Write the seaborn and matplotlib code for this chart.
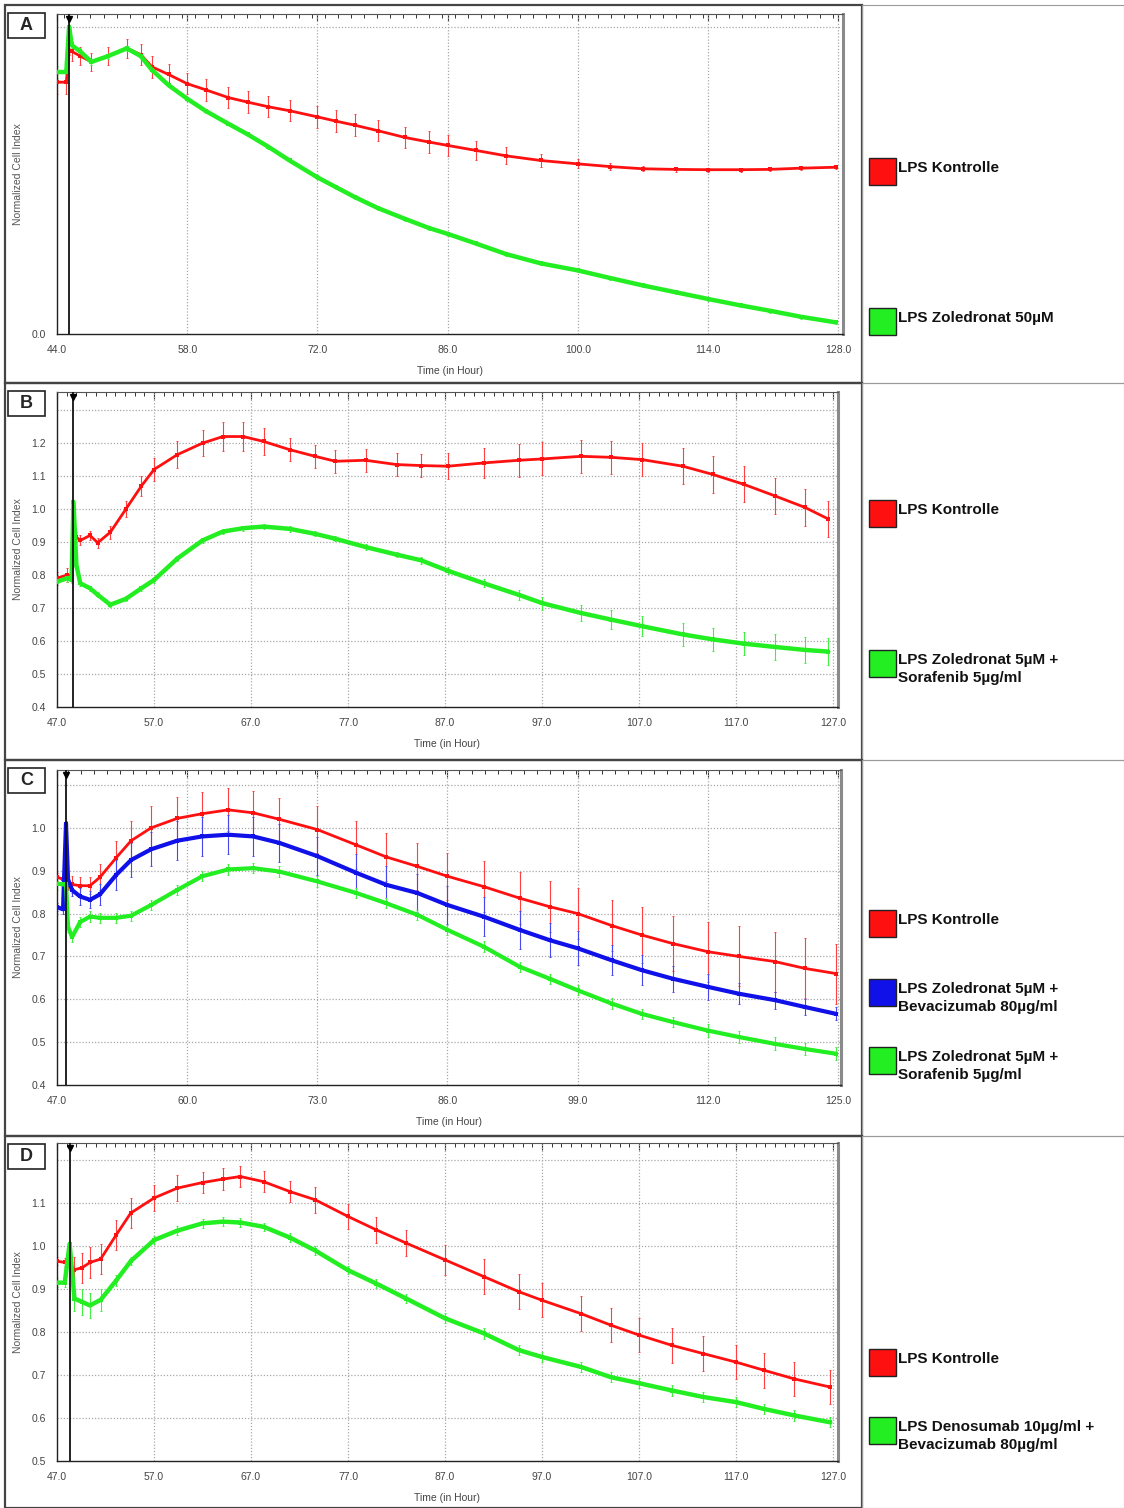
import matplotlib
matplotlib.use("Agg")
import matplotlib.pyplot as plt
import matplotlib.patches as mpatches
from matplotlib.ticker import MultipleLocator, FixedLocator, FuncFormatter
import seaborn as sns

# ---- panel A ----
A_time = [44.0, 45.0, 45.3, 45.6, 46.5, 47.7, 49.5, 51.5, 53.0, 54.2, 56, 58, 60, 62.4, 64.5, 66.7, 69, 72,
          74, 76, 78.5, 81.4, 84, 86, 89, 92.3, 96, 100, 103.5, 107, 110.5, 114, 117.5, 120.6, 124, 127.7]
A_red = [0.82, 0.82, 0.92, 0.92, 0.905, 0.886, 0.905, 0.93, 0.91, 0.87, 0.845, 0.815, 0.795, 0.77, 0.755,
         0.74, 0.727, 0.707, 0.693, 0.68, 0.662, 0.64, 0.625, 0.614, 0.598, 0.58, 0.565, 0.554, 0.545, 0.538,
         0.536, 0.535, 0.535, 0.536, 0.54, 0.543]
A_red_err = [0.04, 0.04, 0.01, 0.03, 0.03, 0.03, 0.03, 0.03, 0.035, 0.035, 0.035, 0.035, 0.035, 0.035, 0.035,
             0.035, 0.035, 0.035, 0.035, 0.035, 0.035, 0.035, 0.035, 0.033, 0.03, 0.028, 0.022, 0.015, 0.012,
             0.008, 0.007, 0.006, 0.006, 0.006, 0.006, 0.006]
A_green = [0.853, 0.853, 1.0, 0.94, 0.92, 0.886, 0.905, 0.93, 0.905, 0.86, 0.81, 0.766, 0.726, 0.685, 0.65,
           0.61, 0.565, 0.51, 0.478, 0.446, 0.41, 0.375, 0.345, 0.326, 0.295, 0.26, 0.23, 0.207, 0.182, 0.158,
           0.136, 0.114, 0.093, 0.076, 0.056, 0.038]
A_green_err = [0.02, 0.02, 0.005, 0.01, 0.01, 0.01, 0.008, 0.008, 0.006, 0.006, 0.006, 0.006, 0.006, 0.006,
               0.006, 0.006, 0.006, 0.006, 0.006, 0.006, 0.006, 0.006, 0.006, 0.006, 0.006, 0.006, 0.006,
               0.006, 0.006, 0.006, 0.006, 0.006, 0.006, 0.006, 0.006, 0.006]
A_norm = 45.3

# ---- panel B ----
B_time = [47.0, 48.0, 48.5, 48.7, 49.0, 49.4, 50.4, 51.2, 52.5, 54.1, 55.7, 57, 59.4, 62, 64.1, 66.2, 68.3,
          71, 73.6, 75.7, 78.8, 82, 84.5, 87.3, 91, 94.6, 97, 101, 104.1, 107.3, 111.5, 114.6, 117.8, 121,
          124.1, 126.5]
B_red = [0.79, 0.80, 0.80, 0.95, 0.915, 0.905, 0.92, 0.898, 0.93, 1.0, 1.07, 1.12, 1.165, 1.2, 1.22, 1.22,
         1.205, 1.18, 1.16, 1.145, 1.148, 1.135, 1.132, 1.13, 1.14, 1.148, 1.152, 1.16, 1.157, 1.15, 1.13,
         1.105, 1.075, 1.04, 1.005, 0.97]
B_red_err = [0.02, 0.02, 0.02, 0.01, 0.015, 0.015, 0.015, 0.015, 0.02, 0.025, 0.03, 0.035, 0.04, 0.04,
             0.045, 0.045, 0.04, 0.035, 0.035, 0.035, 0.035, 0.035, 0.035, 0.04, 0.045, 0.05, 0.05, 0.05,
             0.05, 0.05, 0.055, 0.055, 0.055, 0.055, 0.055, 0.055]
B_green = [0.78, 0.79, 0.785, 1.02, 0.83, 0.775, 0.76, 0.74, 0.71, 0.728, 0.76, 0.785, 0.85, 0.905, 0.932,
           0.942, 0.947, 0.94, 0.925, 0.91, 0.885, 0.862, 0.845, 0.813, 0.775, 0.74, 0.715, 0.685, 0.665,
           0.645, 0.62, 0.605, 0.592, 0.582, 0.573, 0.568]
B_green_err = [0.01, 0.01, 0.01, 0.005, 0.01, 0.008, 0.008, 0.008, 0.008, 0.008, 0.008, 0.008, 0.008, 0.008,
               0.008, 0.008, 0.008, 0.008, 0.008, 0.008, 0.008, 0.008, 0.01, 0.01, 0.012, 0.015, 0.02, 0.025,
               0.03, 0.03, 0.035, 0.035, 0.035, 0.04, 0.04, 0.04]
B_norm = 48.7

# ---- panel C ----
C_time = [47.0, 47.6, 47.9, 48.1, 48.5, 49.3, 50.3, 51.3, 52.9, 54.4, 56.4, 59, 61.5, 64.1, 66.6, 69.2, 73,
          76.9, 79.9, 83, 86, 89.6, 93.2, 96.2, 99, 102.4, 105.4, 108.5, 112, 115.1, 118.7, 121.7, 124.8]
C_red = [0.885, 0.88, 0.875, 0.87, 0.868, 0.865, 0.865, 0.885, 0.93, 0.97, 1.0, 1.022, 1.033, 1.042, 1.035,
         1.02, 0.996, 0.96, 0.932, 0.91, 0.887, 0.863, 0.836, 0.816, 0.8, 0.772, 0.75, 0.73, 0.711, 0.7,
         0.688, 0.672, 0.66]
C_red_err = [0.01, 0.01, 0.01, 0.015, 0.02, 0.02, 0.02, 0.03, 0.04, 0.045, 0.05, 0.05, 0.05, 0.05, 0.05, 0.05,
             0.055, 0.055, 0.055, 0.055, 0.055, 0.06, 0.06, 0.06, 0.06, 0.06, 0.065, 0.065, 0.07, 0.07, 0.07,
             0.07, 0.07]
C_blue = [0.815, 0.81, 1.01, 0.88, 0.855, 0.84, 0.832, 0.845, 0.89, 0.925, 0.95, 0.97, 0.98, 0.984, 0.98,
          0.965, 0.934, 0.895, 0.867, 0.848, 0.82, 0.793, 0.762, 0.738, 0.719, 0.691, 0.668, 0.648, 0.629,
          0.613, 0.598, 0.582, 0.566]
C_blue_err = [0.01, 0.01, 0.005, 0.015, 0.015, 0.02, 0.02, 0.025, 0.035, 0.04, 0.04, 0.045, 0.045, 0.045,
              0.045, 0.045, 0.045, 0.045, 0.045, 0.045, 0.045, 0.045, 0.045, 0.04, 0.04, 0.035, 0.035, 0.03,
              0.03, 0.025, 0.02, 0.018, 0.015]
C_green = [0.87, 0.868, 0.87, 0.77, 0.745, 0.78, 0.793, 0.79, 0.79, 0.795, 0.82, 0.855, 0.887, 0.903, 0.906,
           0.898, 0.875, 0.848, 0.824, 0.797, 0.762, 0.723, 0.676, 0.648, 0.621, 0.59, 0.566, 0.547, 0.527,
           0.512, 0.496, 0.484, 0.473]
C_green_err = [0.015, 0.015, 0.01, 0.012, 0.012, 0.012, 0.012, 0.012, 0.012, 0.012, 0.012, 0.012, 0.012,
               0.012, 0.012, 0.012, 0.012, 0.012, 0.012, 0.012, 0.012, 0.012, 0.012, 0.012, 0.012, 0.012,
               0.012, 0.012, 0.015, 0.015, 0.015, 0.015, 0.015]
C_norm = 47.9

# ---- panel D ----
D_time = [47.0, 47.8, 48.3, 48.8, 49.6, 50.4, 51.5, 53.1, 54.6, 57, 59.4, 62, 64.1, 65.9, 68.3, 71, 73.6, 77,
          79.9, 83, 87, 91, 94.6, 97, 101, 104.1, 107, 110.4, 113.6, 117, 119.9, 123, 126.7]
D_red = [0.965, 0.962, 0.96, 0.945, 0.95, 0.962, 0.97, 1.026, 1.077, 1.112, 1.135, 1.148, 1.156, 1.162, 1.15,
         1.127, 1.108, 1.069, 1.038, 1.007, 0.968, 0.929, 0.894, 0.874, 0.843, 0.816, 0.793, 0.769, 0.75,
         0.73, 0.711, 0.691, 0.672]
D_red_err = [0.01, 0.01, 0.01, 0.03, 0.035, 0.035, 0.035, 0.035, 0.035, 0.03, 0.03, 0.025, 0.025, 0.025, 0.025,
             0.025, 0.03, 0.03, 0.03, 0.03, 0.035, 0.04, 0.04, 0.04, 0.04, 0.04, 0.04, 0.04, 0.04, 0.04, 0.04,
             0.04, 0.04]
D_green = [0.915, 0.915, 1.005, 0.878, 0.87, 0.862, 0.875, 0.92, 0.965, 1.014, 1.036, 1.053, 1.057, 1.055,
           1.045, 1.02, 0.99, 0.944, 0.913, 0.878, 0.832, 0.797, 0.758, 0.742, 0.719, 0.695, 0.681, 0.664,
           0.649, 0.637, 0.621, 0.606, 0.59]
D_green_err = [0.01, 0.01, 0.005, 0.03, 0.03, 0.03, 0.025, 0.012, 0.01, 0.01, 0.01, 0.01, 0.01, 0.01, 0.01,
               0.01, 0.01, 0.01, 0.01, 0.01, 0.012, 0.012, 0.012, 0.012, 0.012, 0.012, 0.012, 0.012, 0.012,
               0.012, 0.012, 0.012, 0.012]
D_norm = 48.3

RED, GREEN, BLUE = "#ff1010", "#22ee22", "#1010e8"
ERR = {RED: "#ff4040", GREEN: "#40f040", BLUE: "#4848f0"}

sns.set_style("white")
plt.rcParams["font.family"] = ["Liberation Sans", "DejaVu Sans"]
NARROW = ["Liberation Sans Narrow", "Liberation Sans", "DejaVu Sans"]

W, H = 1124, 1508
fig = plt.figure(figsize=(W / 100, H / 100), dpi=100)


def box(l, t, r, b):
    return [l / W, 1 - b / H, (r - l) / W, (b - t) / H]


panels = [
    dict(letter="A", frame=(5, 383), ax=(57, 14, 843, 334), xlim=(44, 128.5), xstep=14, ylim=(0, 1.042),
         yticks=[0.0], ygrid=[1.0], yminor=None, ymajor_all=0.1, time=A_time, norm=A_norm,
         series=[(A_red, A_red_err, RED, 2.0), (A_green, A_green_err, GREEN, 3.2)],
         legend=[(171, RED, "LPS Kontrolle"), (321, GREEN, "LPS Zoledronat 50µM")]),
    dict(letter="B", frame=(383, 760), ax=(57, 392, 838, 707), xlim=(47, 127.5), xstep=10, ylim=(0.4, 1.355),
         yticks=[0.4, 0.5, 0.6, 0.7, 0.8, 0.9, 1.0, 1.1, 1.2], ygrid=[0.5, 0.6, 0.7, 0.8, 0.9, 1.0, 1.1, 1.2, 1.3],
         yminor=0.02, ymajor_all=0.1, time=B_time, norm=B_norm,
         series=[(B_red, B_red_err, RED, 2.0), (B_green, B_green_err, GREEN, 3.2)],
         legend=[(513, RED, "LPS Kontrolle"), (663, GREEN, "LPS Zoledronat 5µM +\nSorafenib 5µg/ml")]),
    dict(letter="C", frame=(760, 1136), ax=(57, 770, 841, 1085), xlim=(47, 125.3), xstep=13, ylim=(0.4, 1.135),
         yticks=[0.4, 0.5, 0.6, 0.7, 0.8, 0.9, 1.0], ygrid=[0.5, 0.6, 0.7, 0.8, 0.9, 1.0, 1.1],
         yminor=0.02, ymajor_all=0.1, time=C_time, norm=C_norm,
         series=[(C_red, C_red_err, RED, 2.0), (C_blue, C_blue_err, BLUE, 3.0), (C_green, C_green_err, GREEN, 3.0)],
         legend=[(923, RED, "LPS Kontrolle"), (992, BLUE, "LPS Zoledronat 5µM +\nBevacizumab 80µg/ml"),
                 (1060, GREEN, "LPS Zoledronat 5µM +\nSorafenib 5µg/ml")]),
    dict(letter="D", frame=(1136, 1508), ax=(57, 1143, 838, 1461), xlim=(47, 127.5), xstep=10, ylim=(0.5, 1.24),
         yticks=[0.5, 0.6, 0.7, 0.8, 0.9, 1.0, 1.1], ygrid=[0.6, 0.7, 0.8, 0.9, 1.0, 1.1, 1.2],
         yminor=0.02, ymajor_all=0.1, time=D_time, norm=D_norm,
         series=[(D_red, D_red_err, RED, 2.0), (D_green, D_green_err, GREEN, 3.2)],
         legend=[(1362, RED, "LPS Kontrolle"), (1430, GREEN, "LPS Denosumab 10µg/ml +\nBevacizumab 80µg/ml")]),
]

for p in panels:
    top, bot = p["frame"]
    # panel frames
    fig.patches.append(mpatches.Rectangle((5 / W, 1 - bot / H), (862 - 5) / W, (bot - top) / H,
                                          transform=fig.transFigure, fill=False, ec="#444444", lw=1.6))
    fig.patches.append(mpatches.Rectangle((862 / W, 1 - bot / H), (W - 862) / W, (bot - top) / H,
                                          transform=fig.transFigure, fill=False, ec="#9a9a9a", lw=0.8))
    # letter box
    fig.patches.append(mpatches.Rectangle((8 / W, 1 - (top + 33) / H), 37 / W, 25 / H,
                                          transform=fig.transFigure, fc="white", ec="#222222", lw=1.2))
    fig.text(26.5 / W, 1 - (top + 20.5) / H, p["letter"], ha="center", va="center",
             fontsize=13, fontweight="bold")

    ax = fig.add_axes(box(*p["ax"]))
    x0, x1 = p["xlim"]
    for yv, err, col, lw in p["series"]:
        ax.errorbar(p["time"], yv, yerr=err, fmt="none", ecolor=ERR[col], elinewidth=0.8,
                    capsize=1.0, capthick=0.7, zorder=2)
        sns.lineplot(x=p["time"], y=yv, color=col, lw=lw, marker="s", markersize=2.5,
                     markeredgewidth=0, ax=ax, zorder=3, errorbar=None, sort=False)

    ax.axvline(p["norm"], color="#111111", lw=1.3, zorder=4)
    ax.plot([p["norm"]], [0.985], marker="v", color="black", markersize=5,
            transform=ax.get_xaxis_transform(), clip_on=False, zorder=5)

    ax.set_xlim(x0, x1)
    ax.set_ylim(*p["ylim"])
    majors = list(range(int(x0), int(x1) + 1, p["xstep"]))
    ax.xaxis.set_major_locator(FixedLocator(majors))
    ax.xaxis.set_minor_locator(MultipleLocator(p["xstep"] / 10))
    ax.xaxis.set_major_formatter(FuncFormatter(lambda v, _: f"{v:.1f}"))

    lo, hi = p["ylim"]
    ymaj = [round(lo + i * p["ymajor_all"], 2) for i in range(int((hi - lo) / p["ymajor_all"]) + 1)]
    ax.yaxis.set_major_locator(FixedLocator(ymaj))
    labels = p["yticks"]
    ax.yaxis.set_major_formatter(FuncFormatter(
        lambda v, _, labels=labels: f"{v:.1f}" if any(abs(v - l) < 1e-6 for l in labels) else ""))
    if p["yminor"]:
        ax.yaxis.set_minor_locator(MultipleLocator(p["yminor"]))

    for xv in majors[1:]:
        ax.axvline(xv, color="#a8a8a8", lw=0.9, ls=(0, (1, 1.5)), zorder=1)
    for gv in p["ygrid"]:
        ax.axhline(gv, color="#a8a8a8", lw=0.9, ls=(0, (1, 1.5)), zorder=1)

    ax.tick_params(which="both", direction="in", top=True, right=False, colors="#333333",
                   labelcolor="#444444", labelsize=7.5, pad=8)
    ax.tick_params(which="major", length=5, width=0.8)
    ax.tick_params(which="minor", length=3, width=0.7)
    for lab in ax.get_xticklabels() + ax.get_yticklabels():
        lab.set_family(NARROW)
    for side in ["left", "bottom"]:
        ax.spines[side].set_color("#222222")
        ax.spines[side].set_linewidth(1.0)
    ax.spines["top"].set_color("#555555")
    ax.spines["right"].set_color("#8a8a8a")
    ax.spines["right"].set_linewidth(2.2)
    ax.set_xlabel("")
    ax.set_ylabel("")

    l, t, r, b = p["ax"]
    fig.text(18 / W, 1 - ((t + b) / 2) / H, "Normalized Cell Index", rotation=90, ha="center", va="center",
             fontsize=7.5, color="#555555", family=NARROW)
    fig.text(((l + r) / 2) / W, 1 - (b + 37) / H, "Time (in Hour)", ha="center", va="center",
             fontsize=7.5, color="#444444", family=NARROW)

    # legend
    for cy, col, txt in p["legend"]:
        fig.patches.append(mpatches.Rectangle((869 / W, 1 - (cy + 13.5) / H), 27 / W, 27 / H,
                                              transform=fig.transFigure, fc=col, ec="#222222", lw=1.0))
        fig.text(898 / W, 1 - (cy - 10) / H, txt, ha="left", va="top", fontsize=11,
                 fontweight="bold", color="#111111", linespacing=1.4)

fig.savefig("out.png", dpi=100)
